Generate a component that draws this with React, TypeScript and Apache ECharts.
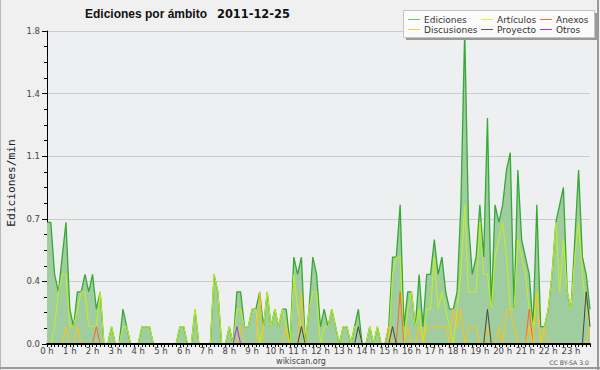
import React, { useEffect, useRef } from "react";
import * as echarts from "echarts";

// 10-minute slots over the day (144 slots)
const SLOTS: string[] = Array.from({ length: 144 }, (_, i) =>
  String(Math.floor(i / 6)).padStart(2, "0") + ":" + String((i % 6) * 10).padStart(2, "0")
);

const HOUR_LABELS = [
  "0 h", "1 h", "2 h", "3 h", "4 h", "5 h", "6 h", "7 h", "8 h", "9 h", "10 h", "11 h",
  "12 h", "13 h", "14 h", "15 h", "16 h", "17 h", "18 h", "19 h", "20 h", "21 h", "22 h", "23 h",
];

const EDICIONES = [
  0.7, 0.7, 0.4, 0.3, 0.5, 0.7, 0.2, 0.1, 0.3, 0.3, 0.4, 0.3,
  0.4, 0.2, 0.3, 0, 0, 0.1, 0, 0, 0.2, 0.1, 0, 0,
  0, 0.1, 0.1, 0.1, 0, 0, 0, 0, 0, 0, 0, 0.1,
  0.1, 0, 0, 0.2, 0, 0, 0, 0, 0.4, 0.3, 0, 0,
  0.1, 0, 0.3, 0.3, 0.1, 0.1, 0.2, 0.2, 0.3, 0.1, 0.3, 0.1,
  0.2, 0.1, 0.2, 0.2, 0, 0.5, 0.4, 0.5, 0, 0.2, 0.5, 0.4,
  0.1, 0.2, 0.1, 0.2, 0.1, 0, 0.1, 0.1, 0, 0.1, 0.2, 0,
  0, 0.1, 0, 0.1, 0, 0, 0.1, 0.5, 0.5, 0.8, 0.1, 0.3,
  0.3, 0.1, 0.4, 0.1, 0.4, 0.4, 0.6, 0.4, 0.5, 0.3, 0.2, 0.2,
  0.3, 0.8, 1.8, 0.7, 0.4, 0.5, 0.8, 0.5, 1.3, 0.2, 0.8, 0.7,
  0.8, 1.0, 1.1, 0.2, 1.0, 0.6, 0.5, 0.4, 0.1, 0.8, 0.1, 0.1,
  0.2, 0.4, 0.7, 0.8, 0.9, 0.3, 0.2, 0.6, 1.0, 0.5, 0.4, 0.2,
];

const ARTICULOS = [
  0, 0, 0.1, 0.3, 0.4, 0.4, 0.1, 0.1, 0.2, 0.3, 0.3, 0.1,
  0.1, 0.1, 0.3, 0, 0, 0.1, 0, 0, 0.1, 0.1, 0, 0,
  0, 0.1, 0.1, 0.1, 0, 0, 0, 0, 0, 0, 0, 0.1,
  0.1, 0, 0, 0.2, 0, 0, 0, 0, 0.4, 0.3, 0, 0,
  0.1, 0, 0.2, 0.2, 0.1, 0.1, 0.2, 0.2, 0, 0.1, 0.3, 0.1,
  0.2, 0.1, 0.2, 0.1, 0, 0.4, 0.2, 0.1, 0, 0.2, 0.3, 0.3,
  0, 0.1, 0.1, 0.2, 0.1, 0, 0.1, 0.1, 0, 0.1, 0.1, 0,
  0, 0.1, 0, 0.1, 0, 0, 0, 0.4, 0.5, 0.5, 0, 0.2,
  0.3, 0.1, 0.2, 0, 0.2, 0.2, 0.5, 0.2, 0.3, 0.2, 0.1, 0,
  0.2, 0.4, 0.8, 0.3, 0.3, 0.3, 0.7, 0.4, 0.4, 0.2, 0.5, 0.6,
  0.7, 0.5, 0.2, 0.2, 0.6, 0.5, 0.4, 0.2, 0.1, 0.3, 0, 0.1,
  0.2, 0.4, 0.7, 0.3, 0.6, 0.3, 0.2, 0.5, 0.7, 0.4, 0.2, 0.1,
];

const ANEXOS = [
  0, 0, 0, 0, 0, 0, 0, 0, 0, 0, 0, 0,
  0, 0.1, 0, 0, 0, 0, 0, 0, 0, 0, 0, 0,
  0, 0, 0, 0, 0, 0, 0, 0, 0, 0, 0, 0,
  0, 0, 0, 0, 0, 0, 0, 0, 0, 0, 0, 0,
  0, 0, 0, 0, 0, 0, 0, 0, 0, 0, 0, 0,
  0, 0, 0, 0, 0, 0, 0, 0, 0, 0, 0, 0,
  0, 0, 0, 0, 0, 0, 0, 0, 0, 0, 0, 0,
  0, 0, 0, 0, 0, 0, 0, 0, 0, 0.3, 0, 0,
  0, 0, 0, 0, 0, 0, 0, 0, 0, 0, 0, 0,
  0, 0, 0, 0, 0, 0, 0, 0, 0, 0, 0, 0,
  0, 0, 0, 0, 0, 0, 0, 0.2, 0, 0, 0, 0,
  0, 0, 0, 0, 0, 0, 0, 0, 0, 0, 0, 0,
];

const DISCUSIONES = [
  0, 0, 0, 0, 0, 0.1, 0, 0, 0.1, 0, 0, 0,
  0, 0, 0, 0, 0, 0, 0, 0, 0, 0, 0, 0,
  0, 0, 0, 0, 0, 0, 0, 0, 0, 0, 0, 0,
  0, 0, 0, 0, 0, 0, 0, 0, 0, 0, 0, 0,
  0, 0, 0, 0.1, 0, 0, 0, 0, 0.3, 0, 0, 0,
  0, 0, 0, 0.1, 0, 0, 0, 0.3, 0, 0, 0, 0,
  0, 0, 0, 0, 0, 0, 0, 0, 0, 0, 0, 0,
  0, 0, 0, 0, 0, 0, 0.1, 0, 0, 0, 0, 0.1,
  0, 0, 0.1, 0, 0.1, 0.1, 0.1, 0.1, 0.1, 0.1, 0, 0.2,
  0.1, 0.2, 0, 0.1, 0.1, 0.1, 0, 0, 0.1, 0, 0, 0.1,
  0, 0.2, 0.2, 0.1, 0, 0, 0, 0.1, 0, 0.3, 0, 0.1,
  0, 0, 0, 0, 0, 0, 0, 0, 0, 0, 0, 0.1,
];

const PROYECTO = [
  0, 0, 0, 0, 0, 0, 0, 0, 0, 0, 0, 0,
  0, 0, 0, 0, 0, 0, 0, 0, 0, 0, 0, 0,
  0, 0, 0, 0, 0, 0, 0, 0, 0, 0, 0, 0,
  0, 0, 0, 0, 0, 0, 0, 0, 0, 0, 0, 0,
  0, 0, 0, 0, 0, 0, 0, 0, 0, 0, 0, 0,
  0, 0, 0, 0, 0, 0, 0, 0.1, 0, 0, 0, 0,
  0, 0, 0, 0, 0, 0, 0, 0, 0, 0, 0.1, 0,
  0, 0, 0, 0, 0, 0, 0, 0.1, 0, 0, 0, 0,
  0, 0, 0, 0, 0, 0, 0, 0, 0, 0, 0, 0,
  0, 0, 0, 0, 0, 0, 0, 0, 0.2, 0, 0, 0,
  0, 0, 0, 0, 0, 0, 0, 0, 0, 0, 0, 0,
  0, 0, 0, 0, 0, 0, 0, 0, 0, 0, 0.3, 0.1,
];

const OTROS = [
  0, 0, 0, 0, 0, 0, 0, 0, 0, 0, 0, 0,
  0, 0, 0, 0, 0, 0, 0, 0, 0, 0, 0, 0,
  0, 0, 0, 0, 0, 0, 0, 0, 0, 0, 0, 0,
  0, 0, 0, 0, 0, 0, 0, 0, 0, 0, 0, 0,
  0, 0, 0.1, 0, 0, 0, 0, 0, 0, 0, 0, 0,
  0, 0, 0, 0, 0, 0, 0, 0, 0, 0, 0, 0,
  0, 0, 0, 0, 0, 0, 0, 0, 0, 0, 0, 0,
  0, 0, 0, 0, 0, 0, 0, 0, 0, 0, 0, 0,
  0, 0, 0, 0, 0, 0, 0, 0, 0, 0, 0, 0,
  0, 0, 0, 0, 0, 0, 0, 0, 0, 0, 0, 0,
  0, 0, 0, 0, 0, 0, 0, 0, 0, 0, 0, 0,
  0, 0, 0, 0, 0, 0, 0, 0, 0, 0, 0, 0,
];

const TITLE = "Ediciones por ámbito";
const DATE = "2011-12-25";
const Y_NAME = "Ediciones/min";

const LEGEND = [
  { name: "Ediciones", color: "#66cc66", col: 0, row: 0 },
  { name: "Artículos", color: "#ccff33", col: 1, row: 0 },
  { name: "Anexos", color: "#ff6633", col: 2, row: 0 },
  { name: "Discusiones", color: "#ffcc33", col: 0, row: 1 },
  { name: "Proyecto", color: "#555555", col: 1, row: 1 },
  { name: "Otros", color: "#9933ff", col: 2, row: 1 },
];

const FONT = '"DejaVu Sans", sans-serif';

export default function App() {
  const ref = useRef<HTMLDivElement>(null);

  useEffect(() => {
    if (!ref.current) return;
    const chart = echarts.init(ref.current, null, { renderer: "svg" });

    const lineSeries = (name: string, data: number[], color: string, z: number) => ({
      name,
      type: "line",
      data,
      symbol: "none",
      z,
      lineStyle: { color, width: 1 },
      itemStyle: { color },
    });

    const colX = [408, 481, 540];
    const rowY = [19.5, 29.5];
    const legendEls: any[] = [
      { type: "rect", z: 100, shape: { x: 406, y: 13, width: 191, height: 27 }, style: { fill: "#9a9a9a" } },
      { type: "rect", z: 101, shape: { x: 403.5, y: 10.5, width: 191, height: 27 }, style: { fill: "#fbfbfb", stroke: "#c4c4c4", lineWidth: 1 } },
    ];
    LEGEND.forEach((l) => {
      const x = colX[l.col];
      const y = rowY[l.row];
      legendEls.push({
        type: "line", z: 102,
        shape: { x1: x, y1: y, x2: x + 12, y2: y },
        style: { stroke: l.color, lineWidth: 1 },
      });
      legendEls.push({
        type: "text", z: 102, x: x + 16, y,
        style: { text: l.name, fill: "#333", font: `9px ${FONT}`, align: "left", verticalAlign: "middle", textAlign: "left", textVerticalAlign: "middle" },
      });
    });

    chart.setOption({
      animation: false,
      backgroundColor: "#f0f0f0",
      grid: { left: 47, right: 10, top: 31, bottom: 26, show: true, backgroundColor: "#eeeff1", borderWidth: 0 },
      xAxis: {
        type: "category",
        data: SLOTS,
        boundaryGap: false,
        z: 10,
        axisLine: { lineStyle: { color: "#000", width: 2 } },
        axisTick: { interval: 0, length: 3, lineStyle: { color: "#000" } },
        axisLabel: {
          interval: 5,
          formatter: (_v: string, i: number) => (i % 6 === 0 ? HOUR_LABELS[i / 6] : ""),
          fontSize: 8.5,
          fontFamily: FONT,
          color: "#444",
          margin: 2,
        },
        splitLine: { show: false },
      },
      yAxis: {
        type: "value",
        min: 0,
        max: 1.8,
        interval: 0.36,
        axisLine: { show: true, lineStyle: { color: "#000" } },
        axisTick: { show: true, length: 5, lineStyle: { color: "#000" } },
        minorTick: { show: true, splitNumber: 4, length: 3, lineStyle: { color: "#000" } },
        axisLabel: {
          formatter: (v: number) => v.toFixed(1),
          fontSize: 8.5,
          fontFamily: FONT,
          color: "#444",
          margin: 7,
        },
        splitLine: { show: true, lineStyle: { color: "#cccccc", width: 1 } },
      },
      series: [
        {
          name: "Ediciones",
          type: "line",
          data: EDICIONES,
          symbol: "none",
          z: 2,
          lineStyle: { color: "#35a835", width: 1.3 },
          itemStyle: { color: "#66cc66" },
          areaStyle: { color: "#a0cda0", opacity: 1 },
        },
        lineSeries("Artículos", ARTICULOS, "#c4f020", 3),
        lineSeries("Anexos", ANEXOS, "#ff6622", 4),
        lineSeries("Discusiones", DISCUSIONES, "#ffc21a", 4),
        lineSeries("Proyecto", PROYECTO, "#444444", 5),
        lineSeries("Otros", OTROS, "#9933ff", 5),
      ],
      graphic: [
        { type: "text", z: 100, x: 85, y: 14, style: { text: TITLE, fill: "#111", font: 'bold 12px "Liberation Sans", sans-serif', align: "left", verticalAlign: "middle", textAlign: "left", textVerticalAlign: "middle" } },
        { type: "text", z: 100, x: 217, y: 14, style: { text: DATE, fill: "#111", font: `bold 11.4px ${FONT}`, align: "left", verticalAlign: "middle", textAlign: "left", textVerticalAlign: "middle" } },
        { type: "text", z: 100, x: 11, y: 183, rotation: Math.PI / 2, style: { text: Y_NAME, fill: "#222", font: '11.2px "DejaVu Sans Mono", monospace', align: "center", verticalAlign: "middle", textAlign: "center", textVerticalAlign: "middle" } },
        { type: "text", z: 100, x: 301, y: 361, style: { text: "wikiscan.org", fill: "#444", font: `8px ${FONT}`, align: "center", verticalAlign: "middle", textAlign: "center", textVerticalAlign: "middle" } },
        { type: "text", z: 100, x: 589, y: 362, style: { text: "CC BY-SA 3.0", fill: "#555", font: `6.2px ${FONT}`, align: "right", verticalAlign: "middle", textAlign: "right", textVerticalAlign: "middle" } },
        ...legendEls,
        { type: "line", z: 100, shape: { x1: 0.5, y1: 0, x2: 0.5, y2: 370 }, style: { stroke: "#b8b8b8", lineWidth: 1 } },
        { type: "line", z: 100, shape: { x1: 598, y1: 0, x2: 598, y2: 370 }, style: { stroke: "#999", lineWidth: 2 } },
        { type: "line", z: 100, shape: { x1: 0, y1: 368, x2: 600, y2: 368 }, style: { stroke: "#999", lineWidth: 2 } },
      ],
    });

    return () => chart.dispose();
  }, []);

  return (
    <div
      ref={ref}
      style={{ position: "absolute", left: 0, top: 0, width: 600, height: 370 }}
    />
  );
}
